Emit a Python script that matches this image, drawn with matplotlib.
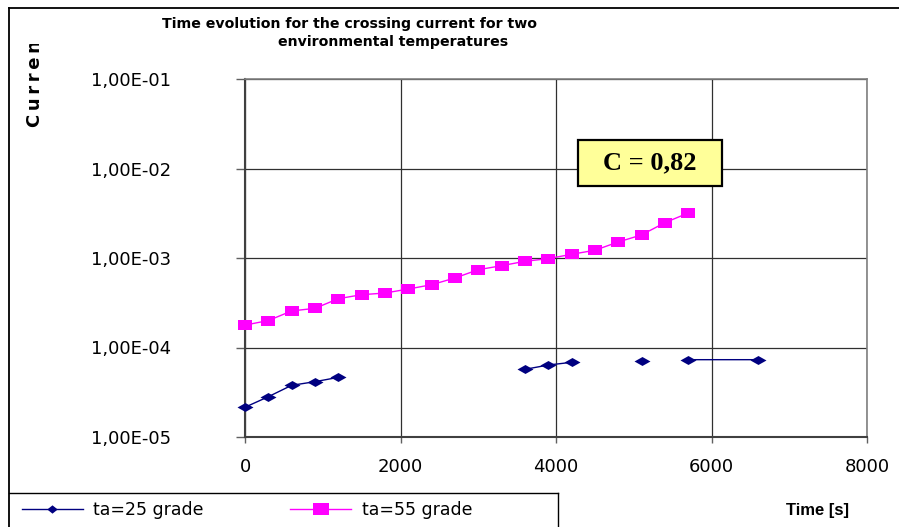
import numpy as np
import matplotlib
matplotlib.use("Agg")
import matplotlib.pyplot as plt
from matplotlib import font_manager
from matplotlib.lines import Line2D
from matplotlib.patches import Rectangle
from matplotlib.ticker import FixedLocator, FuncFormatter, NullLocator
from matplotlib.transforms import Bbox, TransformedBbox

# ---------------- data ----------------
time_55 = [0, 300, 600, 900, 1200, 1500, 1800, 2100, 2400, 2700,
           3000, 3300, 3600, 3900, 4200, 4500, 4800, 5100, 5400, 5700]
current_55 = [1.78e-4, 2.00e-4, 2.56e-4, 2.74e-4, 3.51e-4, 3.89e-4, 4.06e-4,
              4.50e-4, 5.03e-4, 5.98e-4, 7.40e-4, 8.20e-4, 9.19e-4, 9.83e-4,
              1.10e-3, 1.22e-3, 1.51e-3, 1.81e-3, 2.48e-3, 3.18e-3]

time_25 = [0, 300, 600, 900, 1200, 1500, 3600, 3900, 4200, 4500,
           5100, 5400, 5700, 6600]
current_25 = [2.15e-5, 2.82e-5, 3.78e-5, 4.15e-5, 4.64e-5, np.nan,
              5.70e-5, 6.37e-5, 6.83e-5, np.nan,
              7.06e-5, np.nan, 7.31e-5, 7.31e-5]

x_ticks = [0, 2000, 4000, 6000, 8000]
y_ticks = [1e-5, 1e-4, 1e-3, 1e-2, 1e-1]

series_labels = ["ta=25 grade", "ta=55 grade"]
title_line1 = "Time evolution for the crossing current for two"
title_line2 = "environmental temperatures"
annotation = "C = 0,82"

# ---------------- fonts ----------------
names = {f.name for f in font_manager.fontManager.ttflist}
arial = "Liberation Sans" if "Liberation Sans" in names else "DejaVu Sans"
serif = "Liberation Serif" if "Liberation Serif" in names else "DejaVu Serif"

W, H = 899, 527
fig = plt.figure(figsize=(W / 100, H / 100), dpi=100)


def fx(px):
    return px / W


def fy(py):
    return 1 - py / H


ax = fig.add_axes([fx(245), fy(437), fx(867) - fx(245), fy(79) - fy(437)])
ax.set_yscale("log")
ax.set_xlim(0, 8000)
ax.set_ylim(1e-5, 1e-1)

blue = "#000080"
magenta = "#FF00FF"
diamond = [(-1, 0), (0, 0.56), (1, 0), (0, -0.56), (-1, 0)]
rect = [(-1, -0.72), (1, -0.72), (1, 0.72), (-1, 0.72), (-1, -0.72)]

ax.plot(time_25, current_25, color=blue, lw=1.0, marker=diamond, ms=11.5,
        mew=0, mfc=blue, zorder=4, clip_on=False)
ax.plot(time_55, current_55, color=magenta, lw=1.0, marker=rect, ms=10,
        mew=0, mfc=magenta, zorder=4, clip_on=False)

# ticks
ax.xaxis.set_major_locator(FixedLocator(x_ticks))
ax.yaxis.set_major_locator(FixedLocator(y_ticks))
ax.yaxis.set_minor_locator(NullLocator())
ax.xaxis.set_minor_locator(NullLocator())
ax.yaxis.set_major_formatter(FuncFormatter(lambda v, p: f"{v:.2E}".replace(".", ",")))
ax.xaxis.set_major_formatter(FuncFormatter(lambda v, p: f"{v:.0f}"))
ax.tick_params(axis="y", length=6.5, width=1, color="#606060", pad=47,
               labelsize=13, labelcolor="black")
ax.tick_params(axis="x", length=4, width=1, color="#606060", pad=11,
               labelsize=13, labelcolor="black")

ax.grid(True, which="major", color="#303030", lw=0.9)
ax.set_axisbelow(True)
for side in ["left", "bottom"]:
    ax.spines[side].set_color("#404040")
    ax.spines[side].set_linewidth(1.5)
for side in ["top", "right"]:
    ax.spines[side].set_color("#808080")
    ax.spines[side].set_linewidth(1.2)

# titles
fig.text(fx(350), fy(24), title_line1, ha="center", va="center",
         fontsize=10.2, fontweight="bold")
fig.text(fx(393), fy(42), title_line2, ha="center", va="center",
         fontsize=10.2, fontweight="bold")

# y label (clipped at top like the original)
yl = fig.text(fx(35.5), fy(127), "C\u2009u\u2009r\u2009r\u2009e\u2009n\u2009t",
              rotation=90, ha="center", va="bottom", fontsize=13,
              fontweight="bold")
yl.set_clip_box(TransformedBbox(Bbox([[0, 0], [1, fy(44)]]), fig.transFigure))
yl.set_clip_on(True)

# x label
fig.text(fx(818), fy(511), "Time [s]", ha="center", va="center",
         fontsize=12, fontweight="bold", family=arial)

# annotation box
fig.patches.append(Rectangle((fx(578), fy(186)), fx(722) - fx(578), fy(140) - fy(186),
                             transform=fig.transFigure, facecolor="#FFFF99",
                             edgecolor="black", lw=1.6, zorder=5))
fig.text(fx(650), fy(163), annotation, ha="center", va="center", fontsize=19,
         fontweight="bold", family=serif, zorder=6)

# outer frame
fig.add_artist(Line2D([fx(9), 1], [fy(8), fy(8)], color="black", lw=1.3,
                      transform=fig.transFigure))
fig.add_artist(Line2D([fx(9), fx(9)], [fy(8), 0], color="black", lw=1.3,
                      transform=fig.transFigure))
# legend frame
fig.add_artist(Line2D([fx(9), fx(558)], [fy(493), fy(493)], color="black", lw=1.0,
                      transform=fig.transFigure))
fig.add_artist(Line2D([fx(558), fx(558)], [fy(493), 0], color="black", lw=1.0,
                      transform=fig.transFigure))

handles = [
    Line2D([], [], color=blue, lw=1.0, marker=[(-1, 0), (0, 0.8), (1, 0), (0, -0.8), (-1, 0)],
           ms=7.5, mew=0, mfc=blue),
    Line2D([], [], color=magenta, lw=1.0, marker=rect, ms=11.5, mew=0, mfc=magenta),
]
fig.legend(handles, series_labels, loc="center left",
           bbox_to_anchor=(fx(22), fy(510)), ncol=2, frameon=False,
           fontsize=12.5, handlelength=3.5, handletextpad=0.6,
           columnspacing=5.0, borderpad=0, borderaxespad=0)

fig.savefig("out.png", dpi=100)
